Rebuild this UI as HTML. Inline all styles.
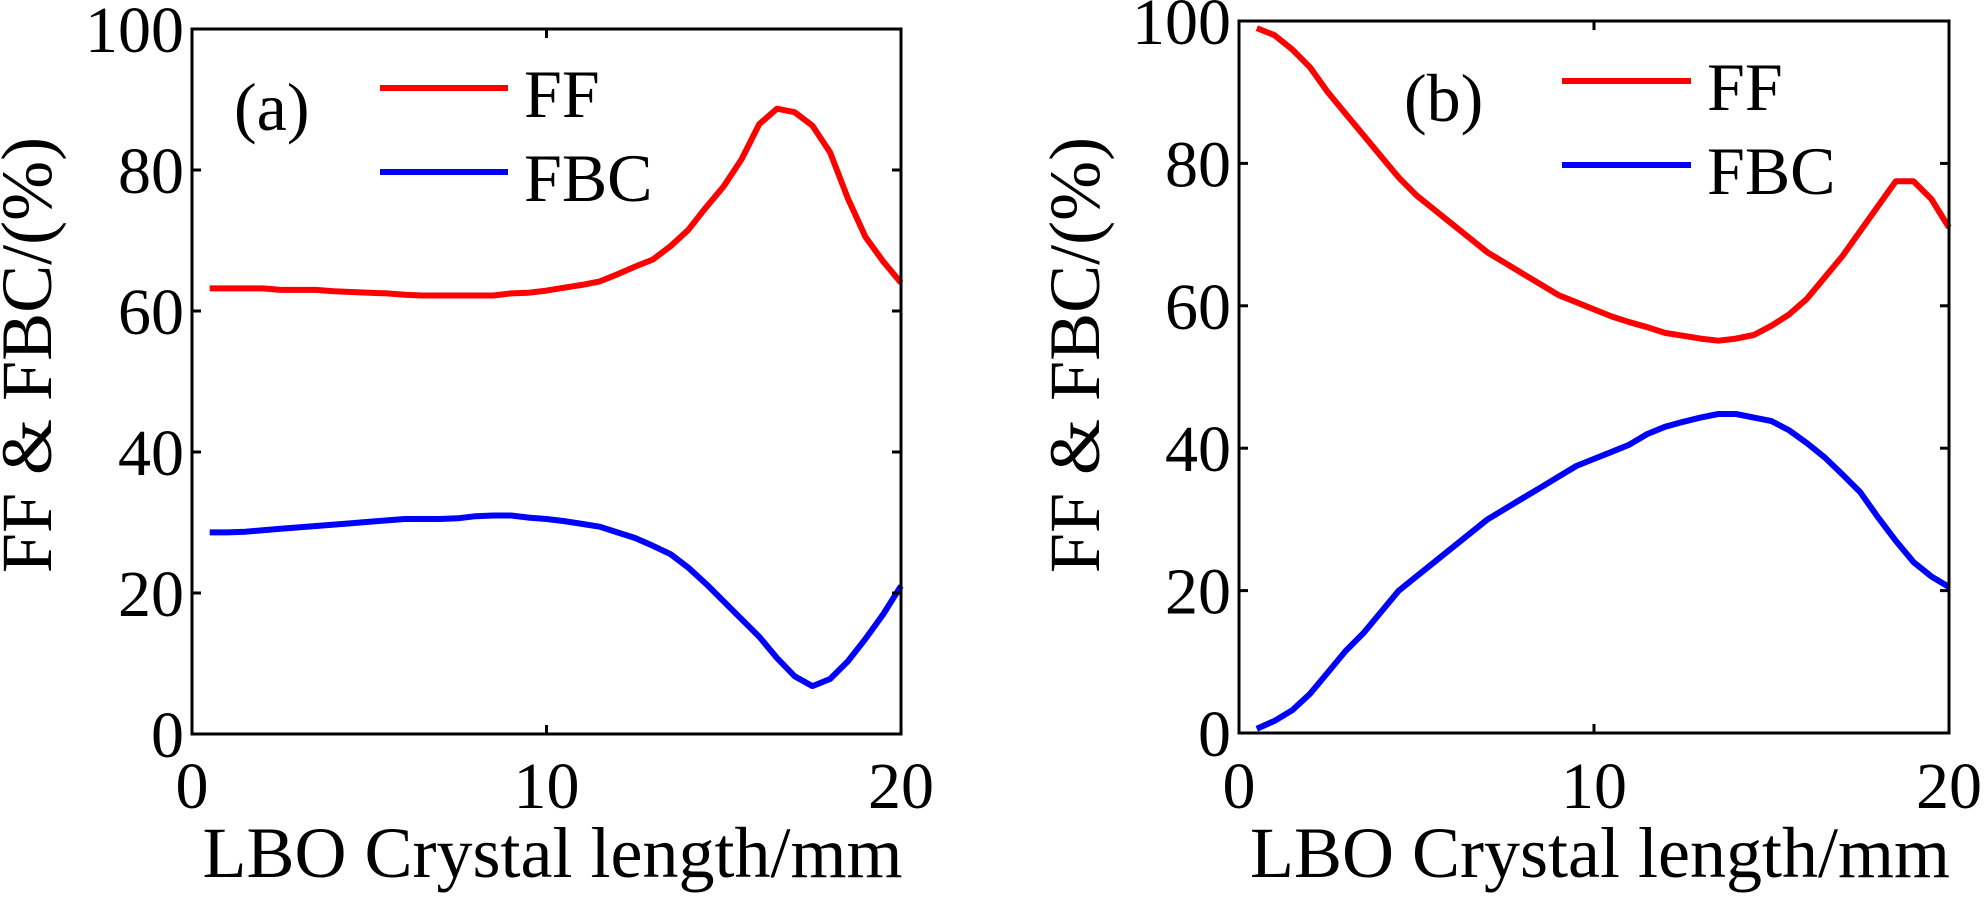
<!DOCTYPE html>
<html><head><meta charset="utf-8"><style>
html,body{margin:0;padding:0;background:#fff;}
svg, svg text{font-family:"Liberation Serif","Times New Roman",Times,serif;}
</style></head><body>
<svg id="fig" width="1984" height="894" viewBox="0 0 1984 894" xmlns="http://www.w3.org/2000/svg" font-family="Liberation Serif, Times New Roman, serif"></svg>
<script>
const xValues = [0.5,1,1.5,2,2.5,3,3.5,4,4.5,5,5.5,6,6.5,7,7.5,8,8.5,9,9.5,10,10.5,11,11.5,12,12.5,13,13.5,14,14.5,15,15.5,16,16.5,17,17.5,18,18.5,19,19.5,20];
const ffA = [63.2,63.2,63.2,63.2,63,63,63,62.8,62.7,62.6,62.5,62.3,62.2,62.2,62.2,62.2,62.2,62.5,62.6,62.9,63.3,63.7,64.2,65.2,66.3,67.3,69.2,71.5,74.7,77.7,81.5,86.5,88.7,88.2,86.3,82.5,76,70.5,67,64];
const fbcA = [28.6,28.6,28.7,28.9,29.1,29.3,29.5,29.7,29.9,30.1,30.3,30.5,30.5,30.5,30.6,30.9,31,31,30.7,30.5,30.2,29.8,29.4,28.6,27.8,26.7,25.5,23.6,21.3,18.8,16.3,13.8,10.8,8.2,6.8,7.8,10.3,13.5,17,21];
const ffB = [99,98,96,93.5,90,87,84,81,78,75.5,73.5,71.5,69.5,67.5,66,64.5,63,61.5,60.5,59.5,58.5,57.7,57,56.2,55.8,55.4,55.1,55.4,55.9,57.2,58.8,61,64,67,70.5,74,77.5,77.5,75,71];
const fbcB = [0.6,1.7,3.2,5.5,8.5,11.5,14,17,20,22,24,26,28,30,31.5,33,34.5,36,37.5,38.5,39.5,40.5,42,43,43.7,44.3,44.8,44.8,44.3,43.8,42.5,40.7,38.7,36.3,33.8,30.3,27,24,22,20.5];
const yTicks = [0,20,40,60,80,100];
const yTickLabels = ["0","20","40","60","80","100"];
const xTicks = [0,10,20];
const xTickLabels = ["0","10","20"];
const seriesNames = ["FF","FBC"];

const NS = "http://www.w3.org/2000/svg";
const FONT = "Liberation Serif, Times New Roman, serif";
const svg = document.getElementById('fig');
function mk(tag, attrs, parent){const e=document.createElementNS(NS,tag);for(const k in attrs)e.setAttribute(k,attrs[k]);if(tag==='text')e.setAttribute('font-family',FONT);(parent||svg).appendChild(e);return e;}

function panel(p){
  const g = mk('g',{});
  
  
  const sx = v => p.x0 + (v-0)/(20-0)*(p.x1-p.x0);
  const sy = v => p.y1 - (v-0)/(100-0)*(p.y1-p.y0);
  const drawLine = (vals, color, nm) => {
    const d = vals.map((v,i)=>(i?'L':'M')+sx(xValues[i]).toFixed(1)+' '+sy(v).toFixed(1)).join(' ');
    const l = mk('path',{d:d,fill:'none',stroke:color,'stroke-width':6,'stroke-linejoin':'round'},g);
    
    
  };
  drawLine(p.ff,'#ff0000',p.tag+'-ff-line');
  drawLine(p.fbc,'#0000ff',p.tag+'-fbc-line');
  const box = mk('rect',{x:p.x0,y:p.y0,width:p.x1-p.x0,height:p.y1-p.y0,fill:'none',stroke:'#000','stroke-width':3},g);
  
  
  yTicks.forEach((v,i)=>{
    const y=sy(v);
    mk('line',{x1:p.x0,x2:p.x0+9,y1:y,y2:y,stroke:'#000','stroke-width':3},g);
    mk('line',{x1:p.x1,x2:p.x1-9,y1:y,y2:y,stroke:'#000','stroke-width':3},g);
    const t=mk('text',{x:p.x0-8,y:y+23,'text-anchor':'end','font-size':66},g);
    t.textContent=yTickLabels[i];
    
    
  });
  xTicks.forEach((v,i)=>{
    const x=sx(v);
    mk('line',{x1:x,x2:x,y1:p.y1,y2:p.y1-9,stroke:'#000','stroke-width':3},g);
    mk('line',{x1:x,x2:x,y1:p.y0,y2:p.y0+9,stroke:'#000','stroke-width':3},g);
    const t=mk('text',{x:x,y:808,'text-anchor':'middle','font-size':66},g);
    t.textContent=xTickLabels[i];
    
    
  });
  const xl=mk('text',{x:(p.x0+p.x1)/2+6,y:877,'text-anchor':'middle','font-size':72},g);
  xl.textContent='LBO Crystal length/mm';
  
  
  const yl=mk('text',{x:0,y:0,'text-anchor':'middle','font-size':72,transform:'translate('+p.ylx+',355) rotate(-90)'},g);
  yl.textContent='FF & FBC/(%)';
  
  
  const pl=mk('text',{x:p.lblx,y:p.lbly,'font-size':68},g);
  pl.textContent=p.label;
  
  
  const cols=['#ff0000','#0000ff'];
  seriesNames.forEach((nm,i)=>{
    const ly=p.legY[i];
    const ll=mk('line',{x1:p.legX0,x2:p.legX1,y1:ly,y2:ly,stroke:cols[i],'stroke-width':6},g);
    
    
    const lt=mk('text',{x:p.legX1+16,y:ly+29,'font-size':68},g);
    lt.textContent=nm;
    
    
  });
}
panel({name:'panel-a',tag:'a',x0:192,x1:901,y0:29,y1:734,ff:ffA,fbc:fbcA,label:'(a)',lblx:234,lbly:130,legX0:380,legX1:508,legY:[88,172],ylx:51});
panel({name:'panel-b',tag:'b',x0:1239,x1:1949,y0:21,y1:733,ff:ffB,fbc:fbcB,label:'(b)',lblx:1404,lbly:121,legX0:1562,legX1:1691,legY:[81,165],ylx:1099});
</script>
</body></html>
